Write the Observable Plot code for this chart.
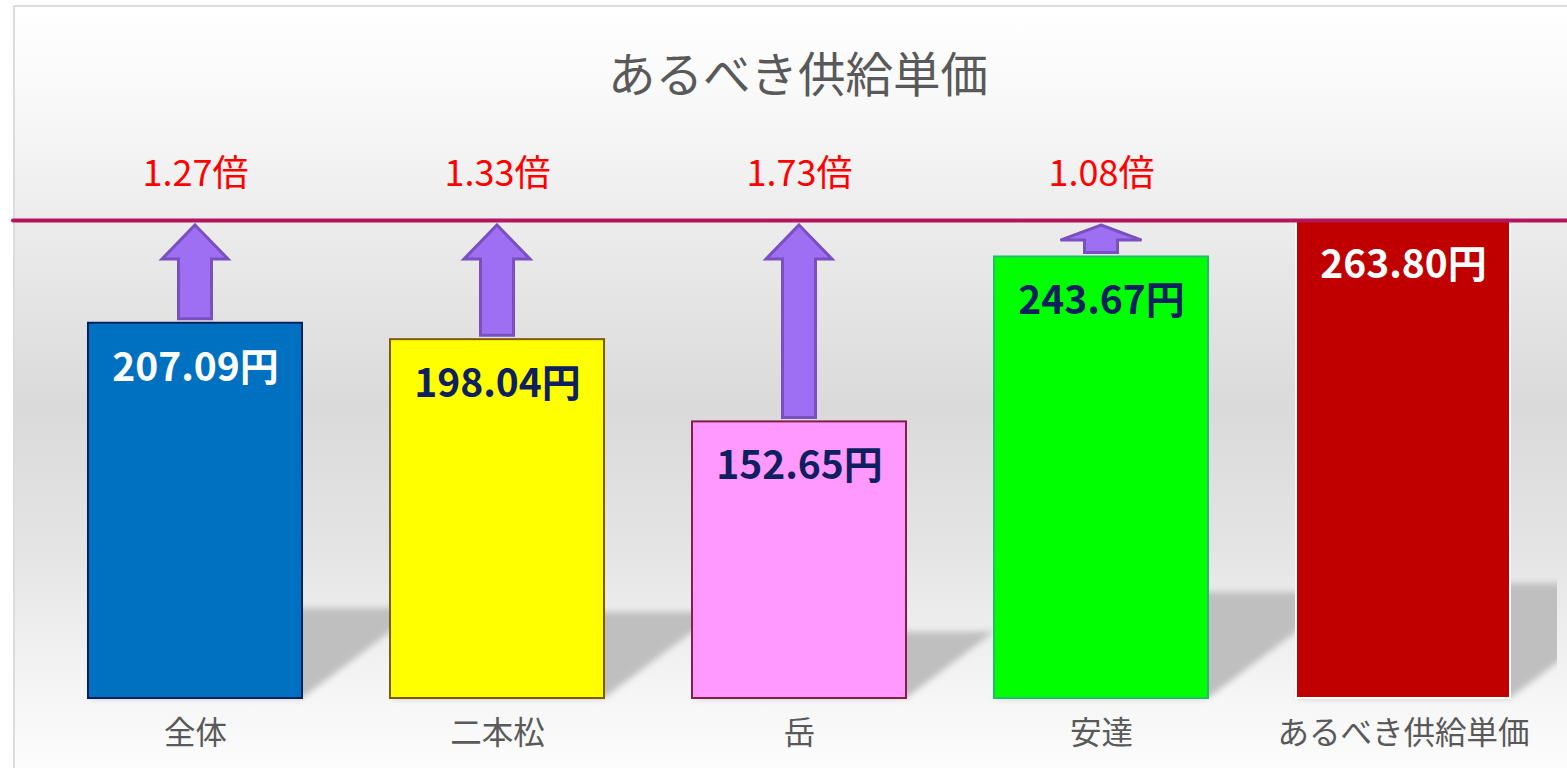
<!DOCTYPE html>
<html>
<head>
<meta charset="utf-8">
<script src="https://cdn.jsdelivr.net/npm/d3@7"></script>
<script src="https://cdn.jsdelivr.net/npm/@observablehq/plot@0.6"></script>
<style>
  body { margin: 0; background: #ffffff; }
  #wrap { position: relative; width: 1567px; height: 768px; overflow: hidden;
          font-family: "Noto Sans CJK JP", "Noto Sans", sans-serif; }
  #frame { position: absolute; left: 13px; top: 5px; width: 1600px; height: 800px;
           box-sizing: border-box; border: 2px solid #dcdcdc;
           background: linear-gradient(to bottom,
             #ffffff 0px, #f8f8f8 100px, #ececec 215px, #dadada 400px,
             #e4e4e4 540px, #ebebeb 600px, #f6f6f6 690px, #fcfcfc 763px, #ffffff 800px); }
  #title { position: relative; box-sizing: border-box; width: 1596px; height: 120px;
           padding-top: 42px; line-height: 60px; text-align: center;
           font-size: 47.5px; color: #595959; }
  #chart { position: relative; }
</style>
</head>
<body>
<div id="wrap">
  <div id="frame"></div>
  <div id="title">あるべき供給単価</div>
  <div id="chart"></div>
</div>
<script>
// ---- data ----
const categories = ["全体", "二本松", "岳", "安達", "あるべき供給単価"];
const values = [207.09, 198.04, 152.65, 243.67, 263.80];
const valueLabels = ["207.09円", "198.04円", "152.65円", "243.67円", "263.80円"];
const ratioLabels = ["1.27倍", "1.33倍", "1.73倍", "1.08倍"];
const target = 263.80;

// ---- styles ----
const barFills = ["#0070c0", "#ffff00", "#ff99ff", "#00ff00", "#c00000"];
const barStrokes = ["#002060", "#7f5a00", "#7f1f4a", "#1fbf6a", "#ffffff"];
const labelColors = ["#ffffff", "#0f1f5f", "#0f1f5f", "#0f1f5f", "#ffffff"];

const data = categories.map((c, i) => ({cat: c, value: values[i], label: valueLabels[i], i}));
const compared = data.slice(0, ratioLabels.length);

function shadowMark(index, scales, vals, dims) {
  const x = scales.x, y = scales.y;
  const bw = x.bandwidth();
  const g = d3.create("svg:g");
  const defs = g.append("defs");
  defs.append("filter").attr("id", "shadowBlur")
    .attr("x", "-20%").attr("y", "-20%").attr("width", "140%").attr("height", "140%")
    .append("feGaussianBlur").attr("stdDeviation", 3);
  defs.append("clipPath").attr("id", "shadowClip")
    .append("rect").attr("x", 0).attr("y", 0)
    .attr("width", x.range()[1] + 2).attr("height", dims.height);
  const inner = g.append("g").attr("clip-path", "url(#shadowClip)")
    .append("g").attr("filter", "url(#shadowBlur)");
  const b = y(0);
  data.forEach(d => {
    const x0 = x(d.cat), x1 = x0 + bw;
    const hs = 0.24 * (b - y(d.value));
    const dx = hs * 1.33;
    const pts = [[x0, b], [x1, b], [x1 + dx, b - hs], [x0 + dx, b - hs]];
    inner.append("path").attr("d", "M" + pts.join("L") + "Z").attr("fill", "#bfbfbf");
  });
  return g.node();
}

function arrowMark(index, scales, vals, dims) {
  const x = scales.x, y = scales.y;
  const bw = x.bandwidth();
  const g = d3.create("svg:g");
  const yT = y(target) + 5;
  compared.forEach(d => {
    const cx = x(d.cat) + bw / 2;
    const yB = y(d.value) - 4;
    const total = yB - yT;
    const headH = Math.min(34, total * 0.55);
    const headW = 33 + (34 - headH) * 0.4;
    const sw = 16.5;
    const pts = [[cx, yT], [cx + headW, yT + headH], [cx + sw, yT + headH], [cx + sw, yB],
                 [cx - sw, yB], [cx - sw, yT + headH], [cx - headW, yT + headH]];
    g.append("path").attr("d", "M" + pts.join("L") + "Z")
      .attr("fill", "#9e6ff2").attr("stroke", "#7a4fc0").attr("stroke-width", 3);
  });
  return g.node();
}

const chart = Plot.plot({
  width: 1567,
  height: 648,
  marginLeft: 13,
  marginRight: 0,
  marginTop: 100,
  marginBottom: 70,
  style: {background: "transparent", overflow: "visible",
          fontFamily: '"Noto Sans CJK JP", "Noto Sans", sans-serif'},
  x: {domain: categories, insetLeft: 30, insetRight: 12, paddingInner: 0.29, paddingOuter: 0.145, label: null},
  y: {domain: [0, target], axis: null},
  color: {type: "identity"},
  marks: [
    shadowMark,
    Plot.barY(data, {x: "cat", y: "value", fill: d => barFills[d.i], stroke: d => barStrokes[d.i], strokeWidth: 2}),
    arrowMark,
    Plot.ruleY([target], {stroke: "#b4155e", strokeWidth: 4, strokeLinecap: "round"}),
    Plot.text(data, {x: "cat", y: "value", text: "label", dy: 45, fill: d => labelColors[d.i],
                     fontSize: 39, fontWeight: "bold"}),
    Plot.text(compared, {x: "cat", y: () => target, text: d => ratioLabels[d.i], dy: -46,
                         fill: "#ff0000", fontSize: 36}),
    Plot.axisX({tickSize: 0, tickPadding: 23, fontSize: 31.5, fill: "#595959", label: null})
  ]
});
document.getElementById("chart").appendChild(chart);
</script>
</body>
</html>
